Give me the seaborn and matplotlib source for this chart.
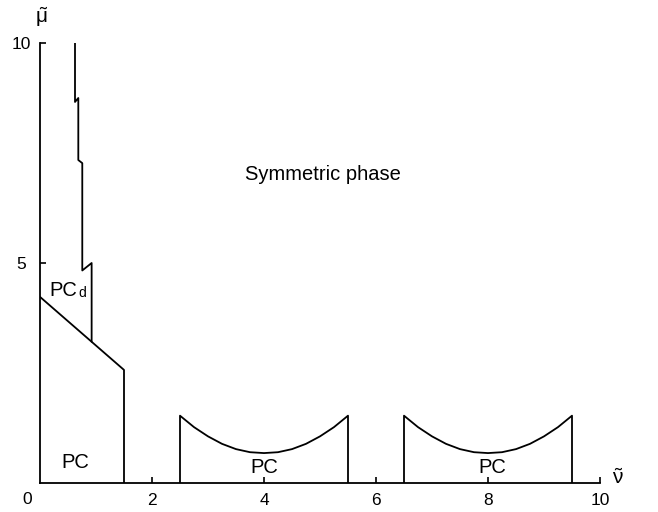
import matplotlib
matplotlib.use("Agg")
import matplotlib.pyplot as plt
import seaborn as sns
import pandas as pd

# ---- data ----
# PC / PC_d boundary (diagonal) then down to the axis
bound_x = [0.0, 1.5, 1.5]
bound_y = [4.23, 2.57, 0.0]

# staircase boundary between PC_d and symmetric phase
stair_x = [0.625, 0.625, 0.684, 0.684, 0.755, 0.755, 0.922, 0.922]
stair_y = [10.0, 8.66, 8.75, 7.34, 7.27, 4.83, 5.0, 3.21]

# first PC lobe
lobe1_x = [2.5, 2.5, 2.75, 3.0, 3.25, 3.5, 3.75, 4.0, 4.25, 4.5, 4.75, 5.0, 5.25, 5.5, 5.5]
lobe1_y = [0.0, 1.53, 1.27, 1.06, 0.89, 0.77, 0.70, 0.68, 0.70, 0.77, 0.89, 1.06, 1.27, 1.53, 0.0]

# second PC lobe
lobe2_x = [6.5, 6.5, 6.75, 7.0, 7.25, 7.5, 7.75, 8.0, 8.25, 8.5, 8.75, 9.0, 9.25, 9.5, 9.5]
lobe2_y = [0.0, 1.53, 1.27, 1.06, 0.89, 0.77, 0.70, 0.68, 0.70, 0.77, 0.89, 1.06, 1.27, 1.53, 0.0]

x_ticks = [2, 4, 6, 8, 10]
x_tick_labels = ["2", "4", "6", "8", "10"]
y_ticks = [5, 10]
y_tick_labels = ["5", "10"]

segments = {
    "boundary": (bound_x, bound_y),
    "stair": (stair_x, stair_y),
    "lobe1": (lobe1_x, lobe1_y),
    "lobe2": (lobe2_x, lobe2_y),
}
rows = []
for name, (xs, ys) in segments.items():
    for i, (xv, yv) in enumerate(zip(xs, ys)):
        rows.append({"seg": name, "order": i, "x": xv, "y": yv})
df = pd.DataFrame(rows)

sns.set_style("ticks")
plt.rcParams["font.family"] = ["Liberation Sans", "DejaVu Sans"]
plt.rcParams["mathtext.fontset"] = "custom"
plt.rcParams["mathtext.rm"] = "Liberation Sans"
plt.rcParams["mathtext.it"] = "Liberation Sans:italic"
plt.rcParams["text.color"] = "black"
plt.rcParams["xtick.color"] = "black"
plt.rcParams["ytick.color"] = "black"
plt.rcParams["axes.labelcolor"] = "black"

fig = plt.figure(figsize=(6.58, 5.12), dpi=100)
ax = fig.add_axes([40 / 658, 1 - 483 / 512, 560 / 658, 440 / 512])

sns.lineplot(data=df, x="x", y="y", units="seg", estimator=None, sort=False,
             color="black", linewidth=1.3, legend=False, ax=ax)

ax.set_xlim(0, 10)
ax.set_ylim(0, 10)
ax.set_xlabel("")
ax.set_ylabel("")
for s in ["top", "right"]:
    ax.spines[s].set_visible(False)
for s in ["left", "bottom"]:
    ax.spines[s].set_linewidth(1.3)
    ax.spines[s].set_color("black")

ax.set_xticks(x_ticks)
ax.set_xticklabels(x_tick_labels)
ax.set_yticks(y_ticks)
ax.set_yticklabels(y_tick_labels)
ax.tick_params(axis="both", direction="in", length=4, width=1.2, color="black",
               labelsize=12.5, labelcolor="black")
ax.tick_params(axis="x", pad=7.5)
ax.tick_params(axis="y", pad=13.5)
for lab in ax.get_yticklabels():
    lab.set_horizontalalignment("center")

# origin label
fig.text(27 / 658, 1 - 499.5 / 512, "0", ha="center", va="center", fontsize=12.5)

# axis labels
fig.text(618 / 658, 1 - 478 / 512, r"$\tilde{\mathrm{\nu}}$", ha="center", va="center", fontsize=15)
fig.text(42 / 658, 1 - 17 / 512, r"$\tilde{\mathrm{\mu}}$", ha="center", va="center", fontsize=15)

# region labels
ax.text(5.06, 7.02, "Symmetric phase", ha="center", va="center", fontsize=14.5)
ax.text(0.625, 0.46, "PC", ha="center", va="center", fontsize=14.5)
ax.text(4.0, 0.36, "PC", ha="center", va="center", fontsize=14.5)
ax.text(8.08, 0.36, "PC", ha="center", va="center", fontsize=14.5)
ax.text(0.16, 4.37, "PC", ha="left", va="center", fontsize=14.5)
ax.text(0.69, 4.31, "d", ha="left", va="center", fontsize=10)

fig.savefig("out.png", dpi=100)
